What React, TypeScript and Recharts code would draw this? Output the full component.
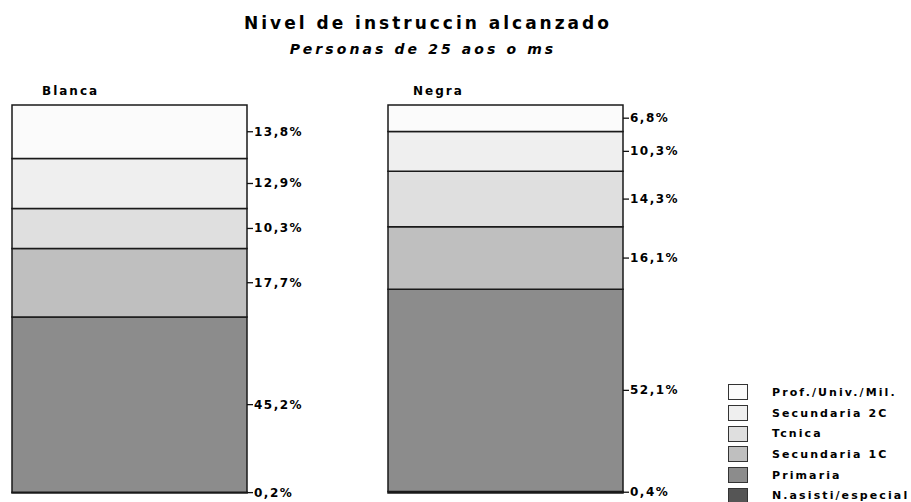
import React from "react";
import { Bar, BarChart, XAxis, YAxis } from "recharts";

const categories = ["Blanca", "Negra"];
const seriesNames = [
  "N.asisti/especial",
  "Primaria",
  "Secundaria 1C",
  "Tcnica",
  "Secundaria 2C",
  "Prof./Univ./Mil.",
];
const seriesColors = ["#555555", "#8c8c8c", "#bfbfbf", "#dfdfdf", "#efefef", "#fbfbfb"];
const blancaValues = [0.2, 45.2, 17.7, 10.3, 12.9, 13.8];
const negraValues = [0.4, 52.1, 16.1, 14.3, 10.3, 6.8];

const valuesByCategory = [blancaValues, negraValues];
const keys = seriesNames.map((_, i) => `s${i}`);

const rows = categories.map((name, c) => {
  const row: Record<string, string | number> = { name };
  keys.forEach((k, i) => {
    row[k] = valuesByCategory[c][i];
  });
  return row;
});

const fontWide = "'DejaVu Sans', Arial, sans-serif";

function SegLabel(props: any) {
  const { x, y, width, height, seg } = props;
  const xr = Number(x) + Number(width);
  const mid = Number(y) + Number(height) / 2;
  const txt = `${Number(seg).toFixed(1).replace(".", ",")}%`;
  return (
    <g>
      <line x1={xr} x2={xr + 6} y1={mid} y2={mid} stroke="#111" strokeWidth={1.3} />
      <text
        x={xr + 7}
        y={mid}
        dominantBaseline="central"
        fontFamily={fontWide}
        fontWeight="bold"
        fontSize={12}
        letterSpacing={1.5}
        fill="#000"
      >
        {txt}
      </text>
    </g>
  );
}

function LegendBox() {
  const items = seriesNames.map((n, i) => ({ n, c: seriesColors[i] })).reverse();
  return (
    <div style={{ position: "absolute", left: 728, top: 382 }}>
      {items.map((it) => (
        <div key={it.n} style={{ display: "flex", alignItems: "center", height: 20.7 }}>
          <div
            style={{
              width: 20,
              height: 16,
              boxSizing: "border-box",
              border: "1.5px solid #333",
              background: it.c,
              marginRight: 24,
            }}
          />
          <span
            style={{
              fontFamily: fontWide,
              fontWeight: "bold",
              fontSize: 11,
              letterSpacing: 2.1,
              color: "#000",
              whiteSpace: "nowrap",
            }}
          >
            {it.n}
          </span>
        </div>
      ))}
    </div>
  );
}

function Panel({ index, left, width, titleLeft }: { index: number; left: number; width: number; titleLeft: number }) {
  const vals = valuesByCategory[index];
  return (
    <div style={{ position: "absolute", left, top: 0 }}>
      <BarChart
        width={width}
        height={502}
        data={[rows[index]]}
        margin={{ top: 105, right: width - 12 - 235, bottom: 9, left: 12 }}
        barCategoryGap={0}
      >
        <XAxis dataKey="name" hide />
        <YAxis hide domain={[0, "dataMax"]} />
        {keys.map((k, i) => (
          <Bar
            key={k}
            dataKey={k}
            name={seriesNames[i]}
            stackId="a"
            fill={seriesColors[i]}
            stroke="#1a1a1a"
            strokeWidth={1.5}
            isAnimationActive={false}
            label={(p: any) => <SegLabel {...p} seg={vals[i]} />}
          />
        ))}
      </BarChart>
      <div
        style={{
          position: "absolute",
          left: titleLeft,
          top: 84,
          fontFamily: fontWide,
          fontWeight: "bold",
          fontSize: 12,
          letterSpacing: 2,
        }}
      >
        {categories[index]}
      </div>
    </div>
  );
}

export default function App() {
  return (
    <div
      style={{
        position: "absolute",
        left: 0,
        top: 0,
        width: 911,
        height: 502,
        background: "#fff",
        overflow: "hidden",
      }}
    >
      <div
        style={{
          position: "absolute",
          left: 0,
          width: 856,
          top: 13,
          textAlign: "center",
          fontFamily: fontWide,
          fontWeight: "bold",
          fontSize: 17,
          letterSpacing: 3,
        }}
      >
        Nivel de instruccin alcanzado
      </div>
      <div
        style={{
          position: "absolute",
          left: 0,
          width: 846,
          top: 41,
          textAlign: "center",
          fontFamily: fontWide,
          fontWeight: "bold",
          fontStyle: "italic",
          fontSize: 14,
          letterSpacing: 3.1,
        }}
      >
        Personas de 25 aos o ms
      </div>
      <Panel index={0} left={0} width={320} titleLeft={42} />
      <Panel index={1} left={376} width={320} titleLeft={37} />
      <LegendBox />
    </div>
  );
}
